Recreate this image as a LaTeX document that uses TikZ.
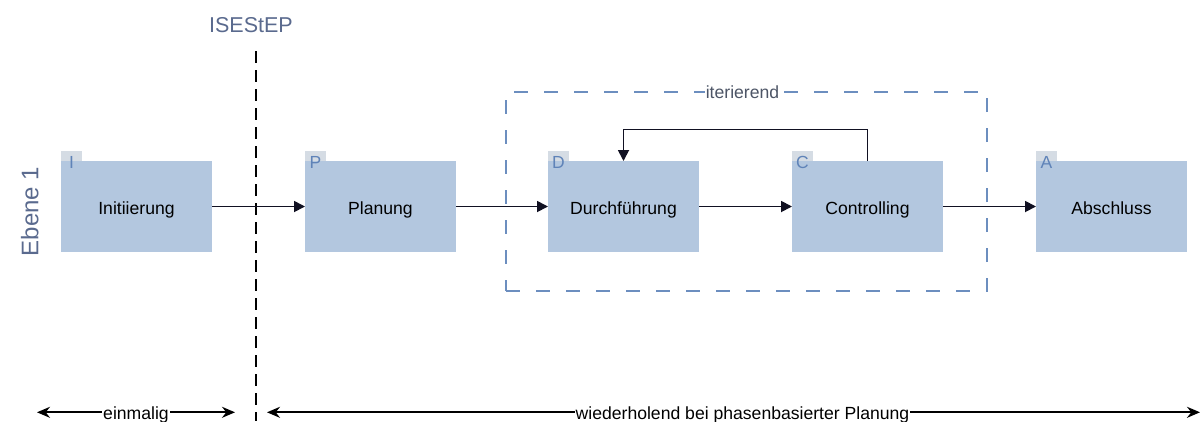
\documentclass[tikz,border=0pt]{standalone}
\usepackage{fontspec}
\setmainfont{Liberation Sans}
\usetikzlibrary{arrows.meta}
\definecolor{boxfill}{HTML}{B3C7DF}
\definecolor{tagfill}{HTML}{D5DCE4}
\definecolor{tagtext}{HTML}{5F83B8}
\definecolor{framecol}{HTML}{6C8EBF}
\definecolor{headcol}{HTML}{5A6A8E}
\definecolor{labcol}{HTML}{4D5566}
\definecolor{conncol}{HTML}{111122}
\tikzset{
  phasebox/.style={fill=boxfill, minimum width=151pt, minimum height=91pt, inner sep=0pt, outer sep=0pt},
  tagbox/.style={fill=tagfill, minimum width=21pt, minimum height=10pt, inner sep=0pt, outer sep=0pt, anchor=south west},
  tagletter/.style={text=tagtext, font=\fontsize{17.5pt}{20pt}\selectfont, anchor=base, inner sep=0pt},
  boxtext/.style={text=black, font=\fontsize{17.6pt}{20pt}\selectfont, anchor=base, inner sep=0pt},
  conn/.style={draw=conncol, line width=1.8pt, -{Triangle[length=11pt,width=11pt]}},
  span/.style={draw=black, line width=1.8pt, {Stealth[length=13pt,width=11pt]}-{Stealth[length=13pt,width=11pt]}},
  spanlabel/.style={fill=white, text=black, font=\fontsize{17.6pt}{20pt}\selectfont, anchor=base, inner sep=1pt},
  iterframe/.style={draw=framecol, line width=1.9pt, dash pattern=on 14pt off 16pt, minimum width=481pt, minimum height=199.5pt, inner sep=0pt},
}
\begin{document}
\begin{tikzpicture}[x=1pt,y=-1pt]
\useasboundingbox (0,0) rectangle (1204,421);

% headings
\node[text=headcol, font=\fontsize{21.5pt}{24pt}\selectfont, anchor=base, inner sep=0pt] (isestep) at (251,32.5) {ISEStEP};
\node[text=headcol, font=\fontsize{24pt}{28pt}\selectfont, anchor=base, rotate=90, inner sep=0pt] (ebene) at (38.3,211.5) {Ebene 1};

% separator
\coordinate (septop) at (256,51);
\coordinate (sepbot) at (256,421);
\draw[black, line width=1.7pt, dash pattern=on 12pt off 7pt] (septop) -- (sepbot);

% iteration frame
\node[iterframe] (iter) at (746.5,191.4) {};
\node[fill=white, text=labcol, font=\fontsize{17.6pt}{20pt}\selectfont, anchor=base, inner sep=1pt] (iterlab) at (742.5,98) {iterierend};

% phase boxes
\node[phasebox] (I) at (136.5,206.5) {};
\node[phasebox] (P) at (380.5,206.5) {};
\node[phasebox] (D) at (623.5,206.5) {};
\node[phasebox] (C) at (867.5,206.5) {};
\node[phasebox] (A) at (1111.5,206.5) {};

\foreach \b/\t/\l in {I/Initiierung/I, P/Planung/P, D/Durchführung/D, C/Controlling/C, A/Abschluss/A}{
  \node[boxtext] (\b txt) at ([yshift=-8pt]\b.center) {\t};
  \node[tagbox] (\b tag) at (\b.north west) {};
  \node[tagletter] (\b let) at ([yshift=-7.5pt]\b tag.south) {\l};
}

% connectors
\draw[conn] (I.east) -- (P.west);
\draw[conn] (P.east) -- (D.west);
\draw[conn] (D.east) -- (C.west);
\draw[conn] (C.east) -- (A.west);
\coordinate (fb) at (0,129.5);
\draw[conn] (C.north) -- (C.north |- fb) -| (D.north);

% spans
\coordinate (e1) at (37,412.3);
\coordinate (e2) at (235,412.3);
\coordinate (w1) at (267,412.3);
\coordinate (w2) at (1200,412.3);
\draw[span] (e1) -- (e2);
\draw[span] (w1) -- (w2);
\node[spanlabel] (einm) at (136,419) {einmalig};
\node[spanlabel] (wied) at (742.5,419) {wiederholend bei phasenbasierter Planung};
\end{tikzpicture}
\end{document}
